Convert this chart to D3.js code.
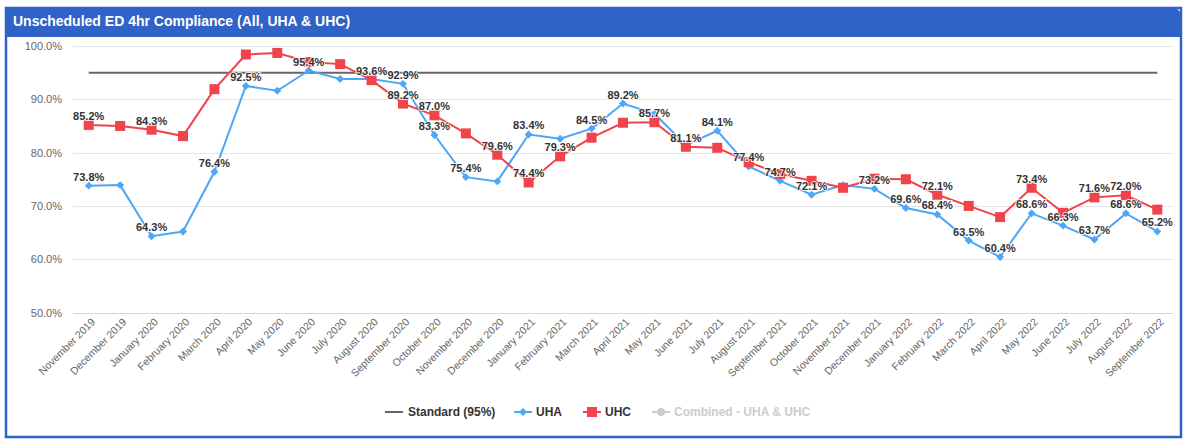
<!DOCTYPE html>
<html>
<head>
<meta charset="utf-8">
<script src="https://cdn.jsdelivr.net/npm/d3@7"></script>
<style>
  body { margin: 0; background: #fff; }
  svg { display: block; font-family: "Liberation Sans", Arial, sans-serif; }
</style>
</head>
<body>
<svg id="chart" width="1184" height="441"></svg>
<script>
var months = ["November 2019", "December 2019", "January 2020", "February 2020", "March 2020",
    "April 2020", "May 2020", "June 2020", "July 2020", "August 2020", "September 2020",
    "October 2020", "November 2020", "December 2020", "January 2021", "February 2021",
    "March 2021", "April 2021", "May 2021", "June 2021", "July 2021", "August 2021",
    "September 2021", "October 2021", "November 2021", "December 2021", "January 2022",
    "February 2022", "March 2022", "April 2022", "May 2022", "June 2022", "July 2022",
    "August 2022", "September 2022"];

var uha = [73.8, 73.9, 64.3, 65.2, 76.4, 92.5, 91.6, 95.4, 93.8, 93.8, 92.9, 83.3, 75.4, 74.6,
    83.4, 82.6, 84.5, 89.2, 87.3, 81.4, 84.1, 77.4, 74.7, 72.1, 73.9, 73.2, 69.6, 68.4, 63.5,
    60.4, 68.6, 66.3, 63.7, 68.6, 65.2];

var uhc = [85.2, 85.0, 84.3, 83.1, 91.9, 98.4, 98.7, 97.0, 96.6, 93.6, 89.2, 87.0, 83.6, 79.6,
    74.4, 79.3, 82.8, 85.6, 85.7, 81.1, 80.9, 78.2, 76.0, 74.7, 73.4, 75.1, 75.0, 72.1, 70.0,
    67.9, 73.4, 68.7, 71.6, 72.0, 69.3];

var standard = 95;

// which points carry a data label
var uhaLabelIdx = [0, 2, 4, 5, 7, 10, 11, 12, 14, 16, 17, 20, 21, 22, 23, 25, 26, 27, 28, 29, 30, 31, 32, 33, 34];
var uhcLabelIdx = [0, 2, 9, 10, 11, 13, 14, 15, 18, 19, 27, 30, 32, 33];

var yTicks = [50, 60, 70, 80, 90, 100];

var blue = "#4da6f7";
var red = "#f0434b";
var header = "#2f63c8";

var svg = d3.select("#chart");

// card
svg.append("path")
    .attr("d", "M6,37 L6,8 L1172,8 Q1181,8 1181,17 L1181,37 Z")
    .attr("fill", header);
svg.append("rect")
    .attr("x", 6).attr("y", 8)
    .attr("width", 1175).attr("height", 429)
    .attr("fill", "none")
    .attr("stroke", header)
    .attr("stroke-width", 2.5);

svg.append("text")
    .attr("x", 13).attr("y", 26)
    .attr("fill", "#fff")
    .attr("font-weight", "bold")
    .attr("font-size", "14px")
    .text("Unscheduled ED 4hr Compliance (All, UHA & UHC)");

var x = d3.scalePoint()
    .domain(months)
    .range([73, 1173])
    .padding(0.5);

var y = d3.scaleLinear()
    .domain([50, 100])
    .range([312.5, 46]);

// gridlines
svg.append("g")
    .selectAll("line")
    .data(yTicks)
    .enter()
    .append("line")
    .attr("x1", 73).attr("x2", 1173)
    .attr("y1", function(d) { return Math.round(y(d)) + 0.5; })
    .attr("y2", function(d) { return Math.round(y(d)) + 0.5; })
    .attr("stroke", function(d) { return d == 50 ? "#ccd6eb" : "#e6e6e6"; })
    .attr("stroke-width", 1);

var yAxis = svg.append("g")
    .attr("transform", "translate(62,0)")
    .call(d3.axisLeft(y).tickValues(yTicks).tickSize(0).tickPadding(0)
        .tickFormat(function(d) { return d.toFixed(1) + "%"; }));
yAxis.select(".domain").remove();
yAxis.selectAll("text")
    .attr("fill", "#666")
    .attr("font-size", "11px")
    .attr("font-family", "Liberation Sans, Arial, sans-serif");

var xAxis = svg.append("g")
    .attr("transform", "translate(0,316)")
    .call(d3.axisBottom(x).tickSize(0).tickPadding(0));
xAxis.select(".domain").remove();
xAxis.selectAll("text")
    .attr("fill", "#666")
    .attr("font-size", "10.5px")
    .attr("font-family", "Liberation Sans, Arial, sans-serif")
    .attr("text-anchor", "end")
    .attr("dy", "0.35em")
    .attr("transform", "translate(4,4) rotate(-45)");

// standard line
svg.append("line")
    .attr("x1", x(months[0])).attr("x2", x(months[months.length - 1]))
    .attr("y1", y(standard)).attr("y2", y(standard))
    .attr("stroke", "#666")
    .attr("stroke-width", 2);

var line = d3.line()
    .x(function(d, i) { return x(months[i]); })
    .y(function(d) { return y(d); });

svg.append("path")
    .datum(uha)
    .attr("d", line)
    .attr("fill", "none")
    .attr("stroke", blue)
    .attr("stroke-width", 2);

svg.append("path")
    .datum(uhc)
    .attr("d", line)
    .attr("fill", "none")
    .attr("stroke", red)
    .attr("stroke-width", 2);

svg.append("g")
    .selectAll("path")
    .data(uha)
    .enter()
    .append("path")
    .attr("d", d3.symbol().type(d3.symbolDiamond2).size(40))
    .attr("transform", function(d, i) { return "translate(" + x(months[i]) + "," + y(d) + ")"; })
    .attr("fill", blue);

svg.append("g")
    .selectAll("rect")
    .data(uhc)
    .enter()
    .append("rect")
    .attr("x", function(d, i) { return x(months[i]) - 5; })
    .attr("y", function(d) { return y(d) - 5; })
    .attr("width", 10).attr("height", 10)
    .attr("fill", red);

function addLabels(values, idx) {
    svg.append("g")
        .selectAll("text")
        .data(idx)
        .enter()
        .append("text")
        .attr("x", function(i) { return x(months[i]); })
        .attr("y", function(i) { return y(values[i]) - 5; })
        .attr("text-anchor", "middle")
        .attr("font-size", "11px")
        .attr("font-weight", "bold")
        .attr("fill", "#333")
        .attr("stroke", "#fff")
        .attr("stroke-width", 2)
        .attr("stroke-opacity", 0.8)
        .attr("paint-order", "stroke")
        .text(function(i) { return values[i].toFixed(1) + "%"; });
}
addLabels(uha, uhaLabelIdx);
addLabels(uhc, uhcLabelIdx);

// legend
var legend = svg.append("g").attr("transform", "translate(0,412)");

legend.append("line")
    .attr("x1", 385).attr("x2", 403)
    .attr("y1", 0).attr("y2", 0)
    .attr("stroke", "#666").attr("stroke-width", 2);
legend.append("line")
    .attr("x1", 514).attr("x2", 532)
    .attr("y1", 0).attr("y2", 0)
    .attr("stroke", blue).attr("stroke-width", 2);
legend.append("path")
    .attr("d", d3.symbol().type(d3.symbolDiamond2).size(40))
    .attr("transform", "translate(523,0)")
    .attr("fill", blue);
legend.append("line")
    .attr("x1", 583).attr("x2", 601)
    .attr("y1", 0).attr("y2", 0)
    .attr("stroke", red).attr("stroke-width", 2);
legend.append("rect")
    .attr("x", 587).attr("y", -5)
    .attr("width", 10).attr("height", 10)
    .attr("fill", red);
legend.append("line")
    .attr("x1", 652).attr("x2", 670)
    .attr("y1", 0).attr("y2", 0)
    .attr("stroke", "#ccc").attr("stroke-width", 2);
legend.append("circle")
    .attr("cx", 661).attr("cy", 0).attr("r", 4)
    .attr("fill", "#ccc");

var legendItems = [
    { x: 408, text: "Standard (95%)", color: "#333" },
    { x: 536, text: "UHA", color: "#333" },
    { x: 605, text: "UHC", color: "#333" },
    { x: 674, text: "Combined - UHA & UHC", color: "#ccc" }
];
legend.selectAll("text.item")
    .data(legendItems)
    .enter()
    .append("text")
    .attr("class", "item")
    .attr("x", function(d) { return d.x; })
    .attr("y", 4)
    .attr("font-size", "12px")
    .attr("font-weight", "bold")
    .attr("fill", function(d) { return d.color; })
    .text(function(d) { return d.text; });
</script>
</body>
</html>
